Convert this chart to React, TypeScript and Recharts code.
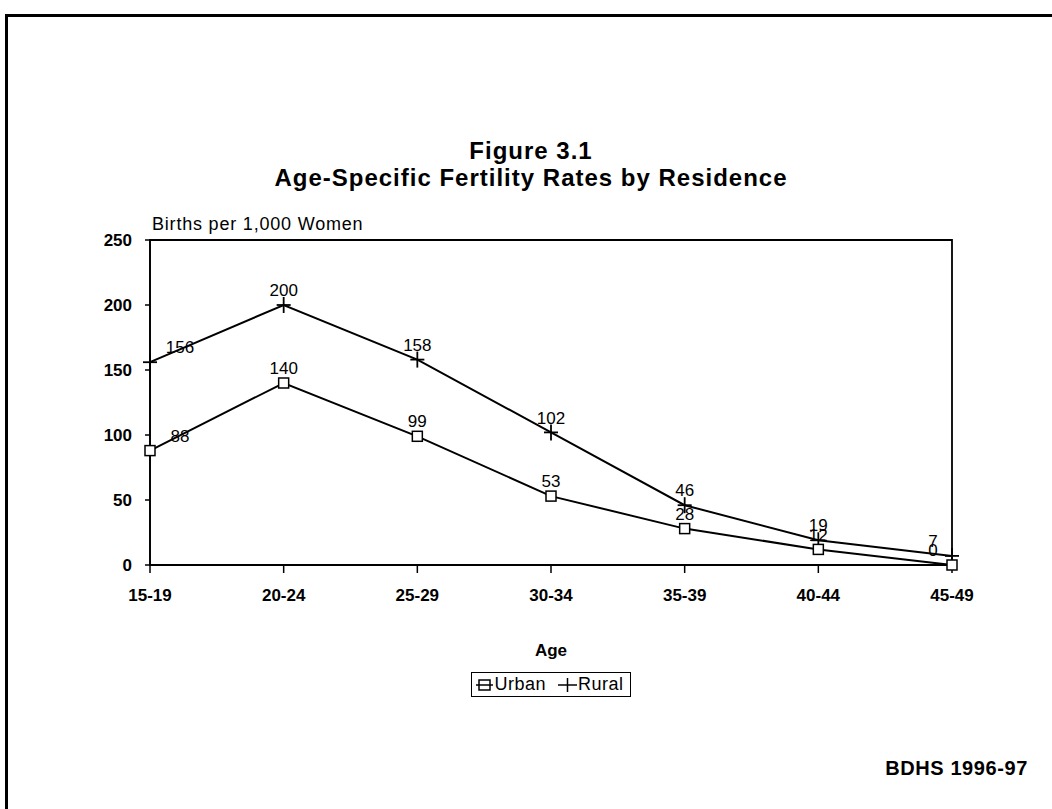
import { LineChart, Line, XAxis, YAxis, LabelList, Legend, Label, ReferenceArea } from 'recharts';

const ageGroups = ['15-19', '20-24', '25-29', '30-34', '35-39', '40-44', '45-49'];
const urbanRates = [88, 140, 99, 53, 28, 12, 0];
const ruralRates = [156, 200, 158, 102, 46, 19, 7];
const yTicks = [0, 50, 100, 150, 200, 250];

const FONT = 'Arial, "Liberation Sans", Helvetica, sans-serif';

const chartData = ageGroups.map((age, i) => ({
    age,
    urban: urbanRates[i],
    rural: ruralRates[i],
}));

const SquareDot = (props: any) => {
    const { cx, cy, index } = props;
    return <rect key={`sq-${index}`} x={cx - 5} y={cy - 5} width={10} height={10} fill="#fff" stroke="#000" strokeWidth={1.5} />;
};

const PlusDot = (props: any) => {
    const { cx, cy, index } = props;
    return (
        <g key={`pl-${index}`}>
            <line x1={cx - 7} y1={cy} x2={cx + 7} y2={cy} stroke="#000" strokeWidth={1.8} />
            <line x1={cx} y1={cy - 8} x2={cx} y2={cy + 8} stroke="#000" strokeWidth={1.8} />
        </g>
    );
};

// value labels sit above the points; the first ones are nudged right, the last ones left
const renderValue = (props: any) => {
    const { x, y, value, index } = props;
    let dx = 0;
    if (index === 0) dx = 30;
    if (index === ageGroups.length - 1) dx = -19;
    return (
        <text x={x + dx} y={y - 15} dy="0.36em" textAnchor="middle" fontSize={17} fontFamily={FONT} fill="#000">
            {value}
        </text>
    );
};

const renderLegend = () => (
    <div style={{
        display: 'inline-flex', alignItems: 'center', gap: 12, border: '1.5px solid #000',
        padding: '1px 6px 1px 4px', fontFamily: FONT, fontSize: 18, background: '#fff', lineHeight: '21px',
        letterSpacing: 0.5
    }}>
        <span style={{ display: 'inline-flex', alignItems: 'center', gap: 1 }}>
            <svg width={17} height={14}>
                <line x1={0} y1={7} x2={17} y2={7} stroke="#000" strokeWidth={1.5} />
                <rect x={3} y={2} width={11} height={10} fill="none" stroke="#000" strokeWidth={1.5} />
            </svg>
            Urban
        </span>
        <span style={{ display: 'inline-flex', alignItems: 'center', gap: 1 }}>
            <svg width={19} height={16}>
                <line x1={0} y1={8} x2={19} y2={8} stroke="#000" strokeWidth={1.5} />
                <line x1={9.5} y1={1} x2={9.5} y2={15} stroke="#000" strokeWidth={1.5} />
            </svg>
            Rural
        </span>
    </div>
);

export default function App() {
    return (
        <div style={{ position: 'absolute', left: 0, top: 0, width: 1052, height: 809, background: '#fff', overflow: 'hidden' }}>
            <div style={{ position: 'absolute', left: 5, top: 14, width: 1047, height: 795, borderTop: '3px solid #000', borderLeft: '3px solid #000', boxSizing: 'border-box' }} />
            <div style={{ position: 'absolute', left: 0, top: 137, width: 1062, textAlign: 'center', fontFamily: FONT, fontWeight: 'bold', fontSize: 24, lineHeight: '27px', letterSpacing: 1, color: '#000' }}>
                <div>Figure 3.1</div>
                <div>Age-Specific Fertility Rates by Residence</div>
            </div>
            <div style={{ position: 'absolute', left: 152, top: 214, fontFamily: FONT, fontSize: 18, letterSpacing: 0.8, color: '#000' }}>
                Births per 1,000 Women
            </div>
            <div style={{ position: 'absolute', right: 24, top: 757, fontFamily: FONT, fontWeight: 'bold', fontSize: 20, letterSpacing: 0.6, color: '#000' }}>
                BDHS 1996-97
            </div>
            <LineChart
                width={1052}
                height={809}
                data={chartData}
                margin={{ top: 240, right: 100, left: 90, bottom: 214 }}
                style={{ position: 'absolute', left: 0, top: 0 }}
            >
                <XAxis
                    dataKey="age"
                    height={30}
                    stroke="#000"
                    strokeWidth={1.5}
                    tickSize={8}
                    tickMargin={16}
                    tick={{ fontSize: 17, fontWeight: 'bold', fill: '#000', fontFamily: FONT }}
                    interval={0}
                >
                    <Label value="Age" position="bottom" offset={49} style={{ fontSize: 17, fontWeight: 'bold', fill: '#000', fontFamily: FONT }} />
                </XAxis>
                <YAxis
                    domain={[0, 250]}
                    ticks={yTicks}
                    width={60}
                    stroke="#000"
                    strokeWidth={1.5}
                    tickSize={5}
                    tickMargin={13}
                    tick={{ fontSize: 17, fontWeight: 'bold', fill: '#000', fontFamily: FONT }}
                />
                <ReferenceArea x1="15-19" x2="45-49" y1={0} y2={250} fill="none" stroke="#000" strokeWidth={1.8} />
                <Legend
                    layout="horizontal"
                    verticalAlign="middle"
                    align="center"
                    content={renderLegend}
                    wrapperStyle={{ position: 'absolute', top: 672, left: 0, width: 1102, textAlign: 'center' }}
                />
                <Line type="linear" dataKey="rural" name="Rural" stroke="#000" strokeWidth={2} dot={PlusDot} activeDot={false} isAnimationActive={false}>
                    <LabelList dataKey="rural" content={renderValue} />
                </Line>
                <Line type="linear" dataKey="urban" name="Urban" stroke="#000" strokeWidth={2} dot={SquareDot} activeDot={false} isAnimationActive={false}>
                    <LabelList dataKey="urban" content={renderValue} />
                </Line>
            </LineChart>
        </div>
    );
}
